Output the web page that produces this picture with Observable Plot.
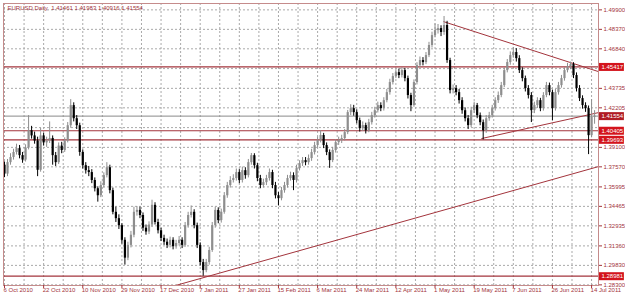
<!DOCTYPE html>
<html><head>
<meta charset="utf-8">
<script src="https://cdn.jsdelivr.net/npm/d3@7"></script>
<script src="https://cdn.jsdelivr.net/npm/@observablehq/plot@0.6"></script>
<style>body{margin:0;background:#fff}svg{display:block}</style>
</head><body><div id="chart"></div>
<script>
const title = "EURUSD,Daily  1.41461 1.41983 1.40916 1.41554";
const open = [
1.3770,1.3700,1.3790,1.3830,1.3870,1.3900,1.3845,1.3810,1.3905,1.4040,
1.4000,1.3960,1.3730,1.4000,1.3945,1.3960,1.3980,1.3845,1.3790,1.3920,
1.3885,1.3960,1.4080,1.4238,1.4135,1.4080,1.3870,1.3766,1.3727,1.3712,
1.3650,1.3585,1.3530,1.3610,1.3688,1.3750,1.3570,1.3400,1.3350,1.3295,
1.3180,1.3040,1.3140,1.3220,1.3400,1.3415,1.3375,1.3275,1.3245,1.3300,
1.3455,1.3320,1.3255,1.3195,1.3165,1.3140,1.3180,1.3130,1.3155,1.3180,
1.3140,1.3295,1.3375,1.3400,1.3295,1.3140,1.3005,1.2942,1.3005,1.3100,
1.3295,1.3415,1.3335,1.3400,1.3530,1.3610,1.3650,1.3665,1.3712,1.3650,
1.3727,1.3688,1.3790,1.3845,1.3766,1.3665,1.3610,1.3633,1.3665,1.3712,
1.3610,1.3530,1.3507,1.3570,1.3610,1.3665,1.3688,1.3650,1.3743,1.3782,
1.3806,1.3790,1.3822,1.3869,1.3924,1.3963,1.4003,1.3924,1.3869,1.3806,
1.3885,1.3947,1.3963,1.3979,1.4026,1.4183,1.4214,1.4183,1.4120,1.4057,
1.4081,1.4040,1.4104,1.4159,1.4198,1.4238,1.4214,1.4277,1.4340,1.4419,
1.4466,1.4497,1.4474,1.4513,1.4450,1.4317,1.4238,1.4419,1.4552,1.4592,
1.4576,1.4631,1.4710,1.4788,1.4827,1.4843,1.4812,1.4867,1.4592,1.4356,
1.4372,1.4340,1.4277,1.4198,1.4135,1.4081,1.4198,1.4238,1.4159,1.4104,
1.4040,1.4135,1.4159,1.4214,1.4277,1.4317,1.4395,1.4513,1.4576,1.4631,
1.4655,1.4607,1.4513,1.4450,1.4372,1.4317,1.4198,1.4238,1.4277,1.4214,
1.4317,1.4395,1.4340,1.4214,1.4340,1.4395,1.4450,1.4513,1.4544,1.4560,
1.4474,1.4372,1.4293,1.4238,1.4214,1.4002,1.41461];
const high = [
1.3795,1.3815,1.3860,1.3895,1.3935,1.3925,1.3870,1.3930,1.4160,1.4075,
1.4030,1.3990,1.4060,1.4020,1.3990,1.4110,1.4000,1.3870,1.3945,1.3950,
1.3985,1.4105,1.4285,1.4260,1.4160,1.4100,1.3890,1.3790,1.3760,1.3735,
1.3670,1.3600,1.3640,1.3710,1.3790,1.3770,1.3590,1.3440,1.3380,1.3310,
1.3200,1.3165,1.3250,1.3440,1.3445,1.3440,1.3395,1.3300,1.3325,1.3495,
1.3475,1.3345,1.3275,1.3220,1.3190,1.3205,1.3200,1.3180,1.3210,1.3200,
1.3320,1.3400,1.3450,1.3420,1.3315,1.3160,1.3030,1.3030,1.3125,1.3320,
1.3440,1.3435,1.3425,1.3555,1.3635,1.3680,1.3695,1.3740,1.3735,1.3755,
1.3750,1.3815,1.3862,1.3860,1.3785,1.3690,1.3660,1.3690,1.3740,1.3730,
1.3635,1.3555,1.3595,1.3635,1.3690,1.3715,1.3710,1.3770,1.3805,1.3830,
1.3830,1.3850,1.3895,1.3950,1.3990,1.4040,1.4020,1.3945,1.3890,1.3910,
1.3970,1.3990,1.4005,1.4050,1.4200,1.4245,1.4240,1.4205,1.4140,1.4110,
1.4100,1.4130,1.4185,1.4225,1.4265,1.4260,1.4300,1.4365,1.4445,1.4490,
1.4520,1.4525,1.4535,1.4530,1.4470,1.4335,1.4440,1.4575,1.4620,1.4615,
1.4655,1.4735,1.4815,1.4880,1.4875,1.4865,1.4938,1.4900,1.4610,1.4400,
1.4395,1.4365,1.4300,1.4220,1.4160,1.4225,1.4265,1.4255,1.4180,1.4125,
1.4160,1.4185,1.4240,1.4300,1.4345,1.4420,1.4535,1.4600,1.4660,1.4695,
1.4685,1.4630,1.4535,1.4470,1.4395,1.4340,1.4265,1.4300,1.4295,1.4340,
1.4420,1.4415,1.4360,1.4365,1.4420,1.4475,1.4535,1.4570,1.4580,1.4575,
1.4495,1.4395,1.4315,1.4260,1.4235,1.4285,1.41983];
const low = [
1.3672,1.3680,1.3770,1.3810,1.3850,1.3820,1.3785,1.3795,1.3890,1.3975,
1.3935,1.3680,1.3715,1.3920,1.3910,1.3940,1.3770,1.3760,1.3775,1.3860,
1.3870,1.3945,1.4060,1.4110,1.4050,1.3840,1.3740,1.3700,1.3680,1.3625,
1.3560,1.3480,1.3515,1.3590,1.3670,1.3545,1.3380,1.3320,1.3265,1.3150,
1.2985,1.3020,1.3120,1.3200,1.3370,1.3350,1.3250,1.3220,1.3225,1.3280,
1.3300,1.3230,1.3170,1.3140,1.3115,1.3120,1.3105,1.3110,1.3135,1.3115,
1.3125,1.3275,1.3355,1.3270,1.3115,1.2980,1.2898,1.2925,1.2985,1.3085,
1.3275,1.3310,1.3315,1.3385,1.3510,1.3590,1.3630,1.3645,1.3625,1.3630,
1.3660,1.3670,1.3770,1.3740,1.3640,1.3585,1.3590,1.3610,1.3645,1.3585,
1.3505,1.3450,1.3490,1.3550,1.3590,1.3645,1.3570,1.3630,1.3725,1.3760,
1.3765,1.3770,1.3800,1.3850,1.3905,1.3945,1.3900,1.3845,1.3745,1.3790,
1.3865,1.3925,1.3940,1.3960,1.4010,1.4160,1.4155,1.4095,1.4030,1.4035,
1.4015,1.4025,1.4085,1.4140,1.4180,1.4190,1.4195,1.4260,1.4320,1.4400,
1.4450,1.4450,1.4455,1.4425,1.4290,1.4190,1.4225,1.4400,1.4535,1.4550,
1.4560,1.4615,1.4690,1.4770,1.4800,1.4780,1.4790,1.4570,1.4330,1.4330,
1.4315,1.4250,1.4170,1.4110,1.4050,1.4065,1.4175,1.4135,1.4080,1.3969,
1.4020,1.4115,1.4140,1.4195,1.4255,1.4300,1.4380,1.4495,1.4555,1.4610,
1.4580,1.4490,1.4425,1.4345,1.4290,1.4105,1.4175,1.4215,1.4190,1.4195,
1.4300,1.4315,1.4120,1.4195,1.4320,1.4375,1.4430,1.4495,1.4520,1.4450,
1.4345,1.4270,1.4210,1.4185,1.3853,1.3985,1.40916];
const close = [
1.3700,1.3790,1.3830,1.3870,1.3900,1.3845,1.3810,1.3905,1.4040,1.4000,
1.3960,1.3730,1.4000,1.3945,1.3960,1.3980,1.3845,1.3790,1.3920,1.3885,
1.3960,1.4080,1.4238,1.4135,1.4080,1.3870,1.3766,1.3727,1.3712,1.3650,
1.3585,1.3530,1.3610,1.3688,1.3750,1.3570,1.3400,1.3350,1.3295,1.3180,
1.3040,1.3140,1.3220,1.3400,1.3415,1.3375,1.3275,1.3245,1.3300,1.3455,
1.3320,1.3255,1.3195,1.3165,1.3140,1.3180,1.3130,1.3155,1.3180,1.3140,
1.3295,1.3375,1.3400,1.3295,1.3140,1.3005,1.2942,1.3005,1.3100,1.3295,
1.3415,1.3335,1.3400,1.3530,1.3610,1.3650,1.3665,1.3712,1.3650,1.3727,
1.3688,1.3790,1.3845,1.3766,1.3665,1.3610,1.3633,1.3665,1.3712,1.3610,
1.3530,1.3507,1.3570,1.3610,1.3665,1.3688,1.3650,1.3743,1.3782,1.3806,
1.3790,1.3822,1.3869,1.3924,1.3963,1.4003,1.3924,1.3869,1.3806,1.3885,
1.3947,1.3963,1.3979,1.4026,1.4183,1.4214,1.4183,1.4120,1.4057,1.4081,
1.4040,1.4104,1.4159,1.4198,1.4238,1.4214,1.4277,1.4340,1.4419,1.4466,
1.4497,1.4474,1.4513,1.4450,1.4317,1.4238,1.4419,1.4552,1.4592,1.4576,
1.4631,1.4710,1.4788,1.4827,1.4843,1.4812,1.4867,1.4592,1.4356,1.4372,
1.4340,1.4277,1.4198,1.4135,1.4081,1.4198,1.4238,1.4159,1.4104,1.4040,
1.4135,1.4159,1.4214,1.4277,1.4317,1.4395,1.4513,1.4576,1.4631,1.4655,
1.4607,1.4513,1.4450,1.4372,1.4317,1.4198,1.4238,1.4277,1.4214,1.4317,
1.4395,1.4340,1.4214,1.4340,1.4395,1.4450,1.4513,1.4544,1.4560,1.4474,
1.4372,1.4293,1.4238,1.4214,1.4002,1.4146,1.41554];

const dateLabels = ["6 Oct 2010","22 Oct 2010","10 Nov 2010","29 Nov 2010","17 Dec 2010","7 Jan 2011","27 Jan 2011","15 Feb 2011","6 Mar 2011","24 Mar 2011","12 Apr 2011","1 May 2011","19 May 2011","7 Jun 2011","26 Jun 2011","14 Jul 2011"];
const dateLabelIdx = [0,13,26,39,52,65,78,91,104,117,130,143,156,169,182,195];
const priceLabels = [1.49900,1.48370,1.46840,1.43735,1.42205,1.39100,1.37570,1.35995,1.34465,1.32935,1.31360,1.29830,1.28300];
const hiddenGridPrices = [1.45288,1.40652];
const levelPrices = [1.45417,1.40405,1.39693,1.28981];
const bidPrice = [1.41554];
const trendStartIdx = [145.8,158.4,56.8];
const trendStartPrice = [1.4898,1.3979,1.2825];
const trendEndIdx = [197.3,197.3,197.3];
const trendEndPrice = [1.4505,1.4183,1.3759];

const bars = close.map((c,i)=>({i, o:open[i], h:high[i], l:low[i], c, up: c >= open[i]}));
const trends = trendStartIdx.map((x,k)=>({x1:x, y1:trendStartPrice[k], x2:trendEndIdx[k], y2:trendEndPrice[k]}));
const vGrid = [];
dateLabelIdx.forEach((d,k)=>{ vGrid.push(d); if (k < dateLabelIdx.length-1) vGrid.push((d+dateLabelIdx[k+1])/2); });
const gridPrices = priceLabels.concat(hiddenGridPrices);

const MAROON = "#a3343c", FRAME = "#c58b8b", RED = "#d3141c", GRID = "#a9a9a9";
const BULL = "#8e8e8e", BEAR = "#000000";
const X0 = -0.33, X1 = 197.3;

const chart = Plot.plot({
  width: 625, height: 297,
  marginTop: 3, marginBottom: 12, marginLeft: 3, marginRight: 27,
  style: {fontFamily: "'Liberation Sans', Arial, sans-serif", fontSize: "6px", background: "#fff", overflow: "visible"},
  x: {domain: [X0, X1], axis: null},
  y: {domain: [1.2825, 1.5040], axis: null},
  marks: [
    Plot.ruleX(vGrid, {x: d=>d, stroke: GRID, strokeDasharray: "2,2"}),
    Plot.ruleY(gridPrices, {y: d=>d, stroke: GRID, strokeDasharray: "2,2"}),
    Plot.ruleY(levelPrices, {y: d=>d, stroke: MAROON, strokeWidth: 1.2}),
    Plot.ruleY(bidPrice, {y: d=>d, stroke: "#8a8a8a", strokeWidth: 1}),
    Plot.link(trends, {x1:"x1", y1:"y1", x2:"x2", y2:"y2", stroke: MAROON, strokeWidth: 1}),
    Plot.ruleX(bars, {x:"i", y1:"l", y2:"h", stroke: d=> d.up ? BULL : BEAR, strokeWidth: 1}),
    Plot.ruleX(bars, {x:"i", y1:"o", y2:"c", stroke: d=> d.up ? BULL : BEAR, strokeWidth: 2.2}),
    Plot.frame({stroke: FRAME, strokeWidth: 1}),
    Plot.axisY(priceLabels, {anchor: "right", tickSize: 3, tickPadding: 2, tickFormat: d=>d.toFixed(5), fontSize: 6, color: MAROON}),
    Plot.axisX(dateLabelIdx, {anchor: "bottom", tickSize: 3, tickFormat: ()=>"", color: MAROON}),
    Plot.text(dateLabelIdx, {x: d=>d, text: (d,k)=>dateLabels[k], frameAnchor: "bottom", textAnchor: "start", lineAnchor: "top", dy: 2, dx: -1, fontSize: 6, fill: MAROON}),
    Plot.ruleY(levelPrices, {y: d=>d, x1: 197.63, x2: 205.9, stroke: RED, strokeWidth: 8}),
    Plot.ruleY(bidPrice, {y: d=>d, x1: 197.63, x2: 205.9, stroke: "#b01c24", strokeWidth: 8}),
    Plot.text(levelPrices.concat(bidPrice), {x: X1, y: d=>d, text: d=>d.toFixed(5), dx: 3, textAnchor: "start", fill: "#fff", fontSize: 6}),
    Plot.text([title], {frameAnchor: "top-left", text: d=>d, dx: 4, dy: 2, textAnchor: "start", lineAnchor: "top", fontSize: 6, fill: MAROON})
  ]
});
document.getElementById("chart").appendChild(chart);
</script>
</body></html>
